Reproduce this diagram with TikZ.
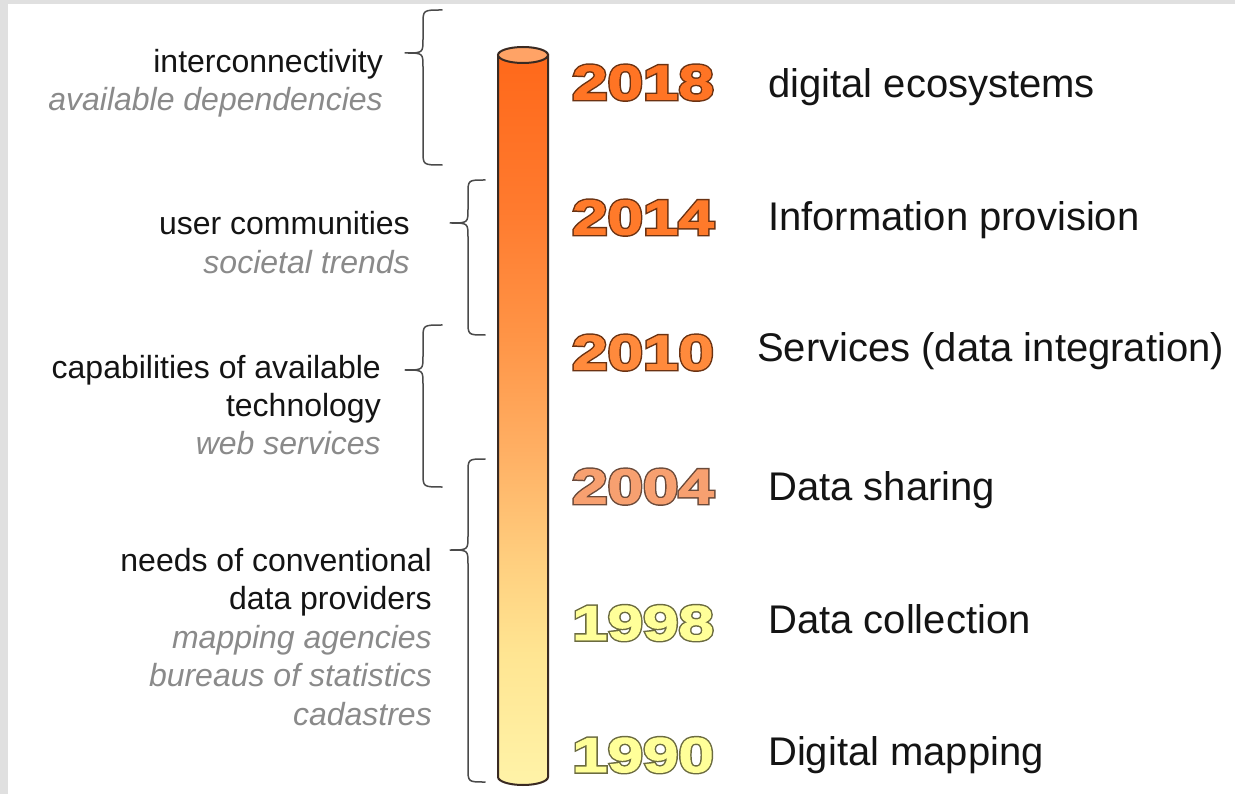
\documentclass[tikz,border=0pt]{standalone}
\usepackage{fontspec}
\setmainfont{Liberation Sans}
\newfontfamily\yearfont[FakeStretch=1.3,FakeBold=2]{Liberation Sans}
\newfontfamily\yearoutfont[FakeStretch=1.3,FakeBold=8]{Liberation Sans}
\definecolor{bggray}{HTML}{E0E0E0}
\definecolor{txt}{HTML}{141414}
\definecolor{sub}{HTML}{8A8A8A}
\definecolor{brc}{HTML}{4A4A4A}
\definecolor{cylline}{HTML}{3A2A22}
\definecolor{cA}{HTML}{FFF3A8}
\definecolor{cB}{HTML}{FFE592}
\definecolor{cC}{HTML}{FFD080}
\definecolor{cD}{HTML}{FFB064}
\definecolor{cE}{HTML}{FF9446}
\definecolor{cF}{HTML}{FF7A2E}
\definecolor{cG}{HTML}{FF6A1C}
\definecolor{captop}{HTML}{FFA366}
\definecolor{oBrown}{HTML}{6B3212}
\definecolor{oBrownL}{HTML}{6B4A3A}
\definecolor{oOlive}{HTML}{6B6B40}
\definecolor{f2018}{HTML}{FF7424}
\definecolor{f2014}{HTML}{FF7A2A}
\definecolor{f2010}{HTML}{FF8A3C}
\definecolor{f2004}{HTML}{F7A070}
\definecolor{fyellow}{HTML}{FFFF99}
\pgfdeclareverticalshading{cylshade}{100bp}{color(0bp)=(cA); color(25bp)=(cA); color(34bp)=(cB); color(40bp)=(cC); color(47.7bp)=(cD); color(55.8bp)=(cE); color(64.6bp)=(cF); color(74bp)=(cG); color(100bp)=(cG)}
\newcommand\outlinetext[3]{%
  \rlap{\yearoutfont\bfseries\color{#1}#3}%
  {\color{#2}#3}}
\tikzset{
  lefttxt/.style={anchor=base east, inner sep=0pt, text=txt, font=\fontsize{32}{38}\selectfont},
  leftsub/.style={anchor=base east, inner sep=0pt, text=sub, font=\fontsize{32}{38}\selectfont\itshape},
  righttxt/.style={anchor=base west, inner sep=0pt, text=txt, font=\fontsize{40}{48}\selectfont},
  yearlbl/.style={anchor=base west, inner sep=0pt, font=\yearfont\bfseries\fontsize{49}{58}\selectfont},
  bracestyle/.style={draw=brc, line width=1.5pt, line cap=round, line join=round}
}
\begin{document}
\begin{tikzpicture}[x=1pt,y=1pt]
\useasboundingbox (0,0) rectangle (1235,-794);
\fill[bggray] (0,0) rectangle (1235,-794);
\fill[white] (8,-4) rectangle (1235,-794);
% cylinder
\shadedraw[shading=cylshade, draw=cylline, line width=2pt]
  (498,-55) -- (498,-777) arc[start angle=180, end angle=360, x radius=25, y radius=8] -- (548,-55) -- cycle;
\filldraw[fill=captop, draw=cylline, line width=2pt] (523,-55) ellipse[x radius=25, y radius=8];
% braces
\draw[bracestyle] (442,-10) .. controls (423,-10) .. (423,-24) -- (423,-39) .. controls (423,-53) .. (405,-53) .. controls (423,-53) .. (423,-67) -- (423,-151) .. controls (423,-165) .. (442,-165);
\draw[bracestyle] (485,-180) .. controls (468,-180) .. (468,-194) -- (468,-209) .. controls (468,-223) .. (450,-223) .. controls (468,-223) .. (468,-237) -- (468,-321) .. controls (468,-335) .. (485,-335);
\draw[bracestyle] (442,-325) .. controls (423,-325) .. (423,-339) -- (423,-356) .. controls (423,-370) .. (405,-370) .. controls (423,-370) .. (423,-384) -- (423,-473) .. controls (423,-487) .. (442,-487);
\draw[bracestyle] (485,-459) .. controls (468,-459) .. (468,-473) -- (468,-536) .. controls (468,-550) .. (450,-550) .. controls (468,-550) .. (468,-564) -- (468,-768) .. controls (468,-782) .. (485,-782);
% left texts
\node[lefttxt] (l1a) at (383,-73) {interconnectivity};
\node[leftsub] (l1b) at (383,-111) {available dependencies};
\node[lefttxt] (l2a) at (410,-235) {user communities};
\node[leftsub] (l2b) at (410,-274) {societal trends};
\node[lefttxt] (l3a) at (381,-379) {capabilities of available};
\node[lefttxt] (l3b) at (381,-417) {technology};
\node[leftsub] (l3c) at (381,-454) {web services};
\node[lefttxt] (l4a) at (432,-571) {needs of conventional};
\node[lefttxt] (l4b) at (432,-609) {data providers};
\node[leftsub] (l4c) at (432,-648) {mapping agencies};
\node[leftsub] (l4d) at (432,-686) {bureaus of statistics};
\node[leftsub] (l4e) at (432,-725) {cadastres};
% years
\node[yearlbl] (y2018) at (572,-99.5) {\outlinetext{oBrown}{f2018}{2018}};
\node[yearlbl] (y2014) at (572,-234.5) {\outlinetext{oBrown}{f2014}{2014}};
\node[yearlbl] (y2010) at (572,-369.5) {\outlinetext{oBrown}{f2010}{2010}};
\node[yearlbl] (y2004) at (572,-503.5) {\outlinetext{oBrownL}{f2004}{2004}};
\node[yearlbl] (y1998) at (572,-640) {\outlinetext{oOlive}{fyellow}{1998}};
\node[yearlbl] (y1990) at (572,-772) {\outlinetext{oOlive}{fyellow}{1990}};
% right texts
\node[righttxt] (r2018) at (768,-98) {digital ecosystems};
\node[righttxt] (r2014) at (768,-231) {Information provision};
\node[righttxt] (r2010) at (757,-362) {Services (data integration)};
\node[righttxt] (r2004) at (768,-500) {Data sharing};
\node[righttxt] (r1998) at (768,-633) {Data collection};
\node[righttxt] (r1990) at (768,-765) {Digital mapping};
\end{tikzpicture}
\end{document}
